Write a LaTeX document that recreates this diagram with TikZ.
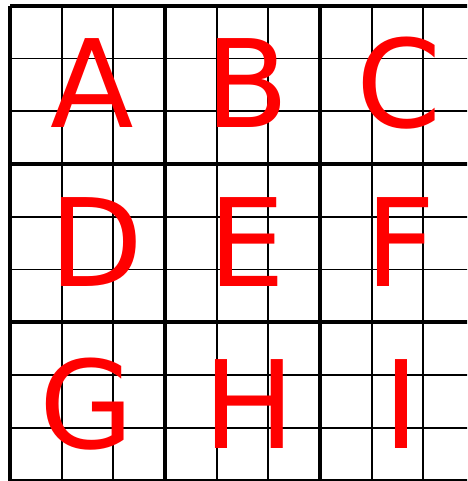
\documentclass[tikz,border=0pt]{standalone}
\usepackage{fontspec}
\setmainfont{DejaVu Sans}
\usepackage{tikz}

\tikzset{
  thinline/.style={line width=1.8pt, black},
  thickline/.style={line width=3.5pt, black},
  letter/.style={text=red, inner sep=0pt, anchor=base, font=\fontsize{122}{122}\selectfont}
}

\begin{document}
\begin{tikzpicture}[x=1pt, y=-1pt]
    % 画布大小
    \useasboundingbox (0,0) rectangle (467,481);
    \clip (0,0) rectangle (467,481);

    % 细网格线
    \foreach \i in {1,2,4,5,7,8} {
        \draw[thinline] (10+\i*51.67, 5.8) -- (10+\i*51.67, 480.5);
        \draw[thinline] (10, 5.8+\i*52.74) -- (475, 5.8+\i*52.74);
    }

    % 粗网格线 (3x3 宫格)
    \foreach \i in {0,3,6,9} {
        \draw[thickline] (10+\i*51.67, 5.8) -- (10+\i*51.67, 480.5);
        \draw[thickline] (10, 5.8+\i*52.74) -- (475, 5.8+\i*52.74);
    }

    % 第一行字母
    \node[letter] (A) at (92.5, 127.5) {A};
    \node[letter] (B) at (247, 127.5) {B};
    \node[letter] (C) at (399.5, 127.5) {C};

    % 第二行字母
    \node[letter] (D) at (96, 286.5) {D};
    \node[letter] (E) at (247, 286.5) {E};
    \node[letter] (F) at (401, 286.5) {F};

    % 第三行字母
    \node[letter] (G) at (87, 448.5) {G};
    \node[letter] (H) at (249, 448.5) {H};
    \node[letter] (I) at (401, 448.5) {I};
\end{tikzpicture}
\end{document}
